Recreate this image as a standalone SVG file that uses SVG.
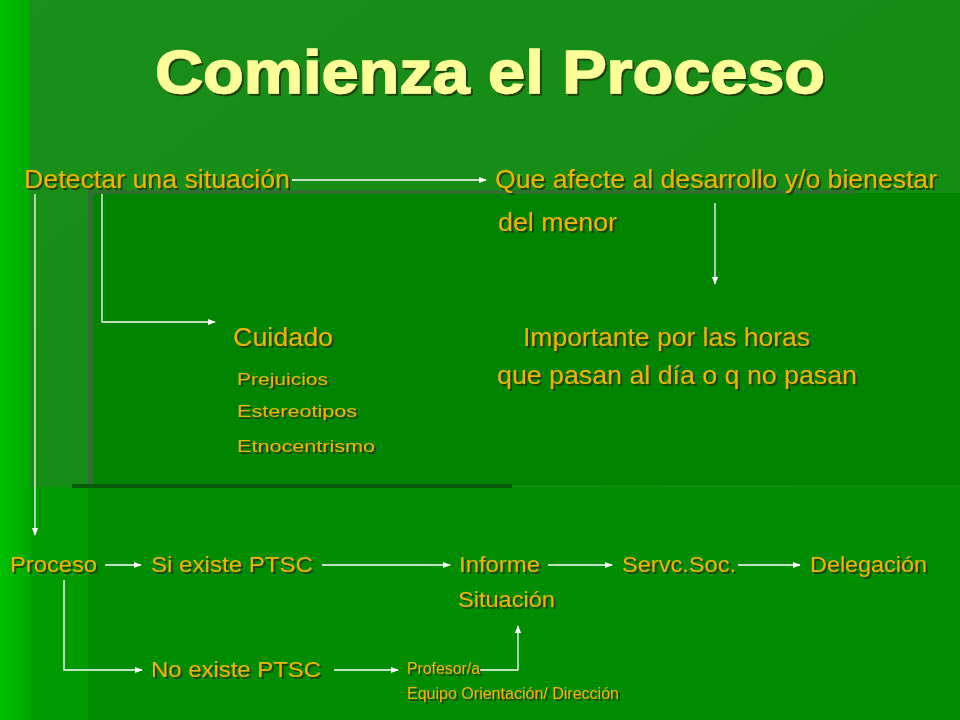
<svg xmlns="http://www.w3.org/2000/svg" width="960" height="720" viewBox="0 0 960 720">
<defs>
<linearGradient id="lg" x1="0" y1="0" x2="1" y2="0"><stop offset="0" stop-color="#00c000"/><stop offset="1" stop-color="#00a800"/></linearGradient>
<linearGradient id="bg" x1="0" y1="0" x2="1" y2="1"><stop offset="0" stop-color="#1a8f1a"/><stop offset="1" stop-color="#108a10"/></linearGradient>
<marker id="a" viewBox="0 0 10 10" refX="9" refY="5" markerWidth="8" markerHeight="8" orient="auto" markerUnits="userSpaceOnUse"><path d="M0,1 L10,5 L0,9 z" fill="#fff"/></marker>
<style>
.t{font-family:"Liberation Sans",Arial,sans-serif;font-size:25px;fill:#f0b400}
.s{font-size:17px}
.m{font-size:22px}
.x{font-size:16px}
.c{stroke:#fff;stroke-width:1.3;fill:none}
</style>
<filter id="sh"><feDropShadow dx="2" dy="2" stdDeviation="0.6" flood-color="#1a3a00" flood-opacity="0.9"/></filter>
</defs>
<rect width="960" height="720" fill="url(#bg)"/>
<rect x="0" y="0" width="30" height="720" fill="url(#lg)"/>
<rect x="90" y="193" width="870" height="292" fill="#008400"/>
<rect x="30" y="487" width="930" height="233" fill="#008c00"/>
<rect x="30" y="487" width="58" height="233" fill="#009a00"/>
<rect x="88" y="193" width="5" height="295" fill="#2f6f2f"/>
<rect x="88" y="190" width="768" height="4" fill="#2f6f2f"/>
<rect x="72" y="484" width="440" height="4" fill="#0a5a0a"/>
<text x="155" y="93" textLength="670" lengthAdjust="spacingAndGlyphs" font-family="Liberation Sans,Arial,sans-serif" font-weight="bold" font-size="62" fill="#ffff99" stroke="#ffff99" stroke-width="1.5" filter="url(#sh)">Comienza el Proceso</text>
<g filter="url(#sh)">
<g id="n1"><text class="t" x="24" y="188" textLength="266" lengthAdjust="spacingAndGlyphs">Detectar una situación</text></g>
<g id="n2"><text class="t" x="495" y="188" textLength="442" lengthAdjust="spacingAndGlyphs">Que afecte al desarrollo y/o bienestar</text><text class="t" x="498" y="231" textLength="119" lengthAdjust="spacingAndGlyphs">del menor</text></g>
<g id="n3"><text class="t" x="233" y="346" textLength="100" lengthAdjust="spacingAndGlyphs">Cuidado</text><text class="t s" x="237" y="385" textLength="91" lengthAdjust="spacingAndGlyphs">Prejuicios</text><text class="t s" x="237" y="417" textLength="120" lengthAdjust="spacingAndGlyphs">Estereotipos</text><text class="t s" x="237" y="452" textLength="138" lengthAdjust="spacingAndGlyphs">Etnocentrismo</text></g>
<g id="n4"><text class="t" x="523" y="346" textLength="287" lengthAdjust="spacingAndGlyphs">Importante por las horas</text><text class="t" x="497" y="384" textLength="360" lengthAdjust="spacingAndGlyphs">que pasan al día o q no pasan</text></g>
<g id="n5"><text class="t m" x="10" y="572" textLength="87" lengthAdjust="spacingAndGlyphs">Proceso</text></g>
<g id="n6"><text class="t m" x="151" y="572" textLength="162" lengthAdjust="spacingAndGlyphs">Si existe PTSC</text></g>
<g id="n7"><text class="t m" x="459" y="572" textLength="81" lengthAdjust="spacingAndGlyphs">Informe</text><text class="t m" x="458" y="607" textLength="97" lengthAdjust="spacingAndGlyphs">Situación</text></g>
<g id="n8"><text class="t m" x="622" y="572" textLength="114" lengthAdjust="spacingAndGlyphs">Servc.Soc.</text></g>
<g id="n9"><text class="t m" x="810" y="572" textLength="117" lengthAdjust="spacingAndGlyphs">Delegación</text></g>
<g id="n10"><text class="t m" x="151" y="677" textLength="170" lengthAdjust="spacingAndGlyphs">No existe PTSC</text></g>
<g id="n11"><text class="t x" x="407" y="674" textLength="73" lengthAdjust="spacingAndGlyphs">Profesor/a</text><text class="t x" x="407" y="699" textLength="212" lengthAdjust="spacingAndGlyphs">Equipo Orientación/ Dirección</text></g>
</g>
<g id="connectors" class="c" marker-end="url(#a)">
<line x1="292" y1="180" x2="486" y2="180"/>
<line x1="715" y1="203" x2="715" y2="284"/>
<polyline points="102,194 102,322 215,322"/>
<line x1="35" y1="194" x2="35" y2="535"/>
<line x1="105" y1="565" x2="141" y2="565"/>
<line x1="322" y1="565" x2="450" y2="565"/>
<line x1="548" y1="565" x2="612" y2="565"/>
<line x1="738" y1="565" x2="800" y2="565"/>
<polyline points="64,580 64,670 142,670"/>
<line x1="334" y1="670" x2="398" y2="670"/>
<polyline points="480,670 518,670 518,626"/>
</g>
</svg>
